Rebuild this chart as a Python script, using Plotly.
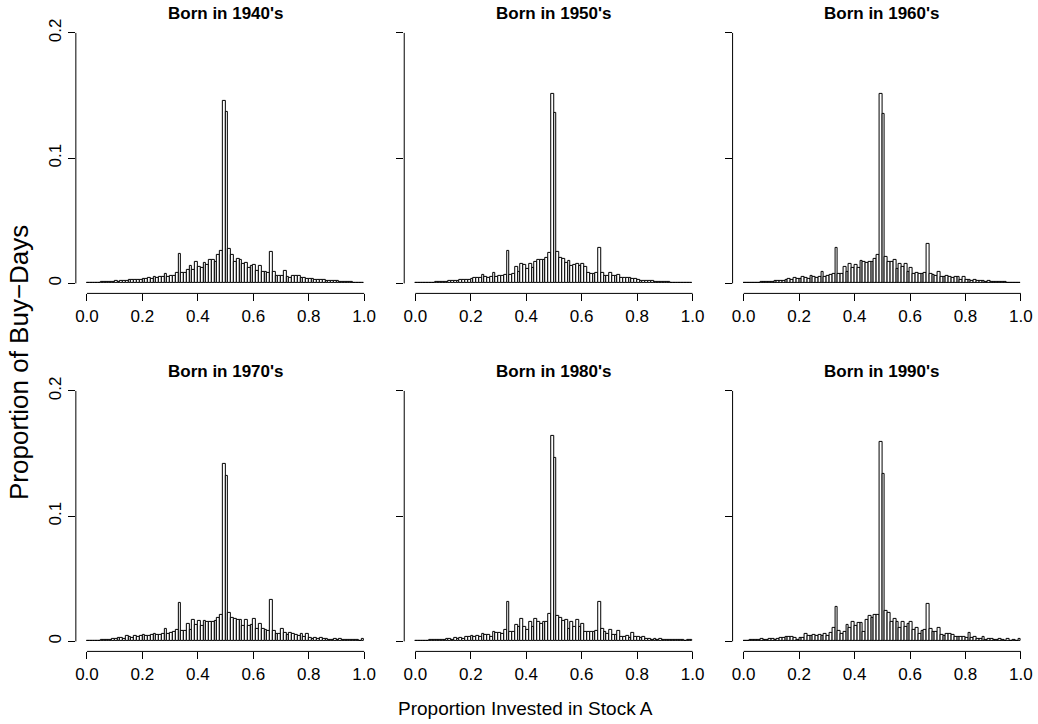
import numpy as np
import plotly.graph_objects as go

# ---------------- data ----------------
bin_edges = np.round(np.linspace(0, 1, 101), 2)
bin_mid = (bin_edges[:-1] + bin_edges[1:]) / 2

panel_titles = ["Born in 1940's", "Born in 1950's", "Born in 1960's",
                "Born in 1970's", "Born in 1980's", "Born in 1990's"]

x_tick_vals = [0.0, 0.2, 0.4, 0.6, 0.8, 1.0]
x_tick_text = ["0.0", "0.2", "0.4", "0.6", "0.8", "1.0"]
y_tick_vals = [0, 0.1, 0.2]
y_tick_text = ["0", "0.1", "0.2"]

prop_1940 = [
    0.0001, 0.0002, 0.0003, 0.0004, 0.0006, 0.0008, 0.0011, 0.0015, 0.0013, 0.0014,
    0.0016, 0.0014, 0.0018, 0.0016, 0.0021, 0.0024, 0.0024, 0.0026, 0.0029, 0.0029,
    0.0032, 0.0037, 0.0045, 0.0037, 0.0053, 0.0040, 0.0048, 0.0053, 0.0079, 0.0053,
    0.0061, 0.0061, 0.0082, 0.0235,
    0.0087, 0.0087, 0.0106, 0.0138, 0.0106, 0.0169, 0.0135, 0.0127, 0.0167, 0.0146,
    0.0190, 0.0188, 0.0172, 0.0225, 0.0259,
    0.1455, 0.1370,
    0.0278, 0.0225, 0.0175, 0.0198, 0.0190, 0.0153, 0.0167, 0.0127, 0.0138, 0.0146,
    0.0101, 0.0140, 0.0090, 0.0090, 0.0082,
    0.0251,
    0.0093, 0.0063, 0.0061, 0.0061, 0.0101, 0.0053, 0.0045, 0.0063, 0.0063, 0.0056,
    0.0040, 0.0040, 0.0037, 0.0034, 0.0032, 0.0029, 0.0026, 0.0026, 0.0024, 0.0021,
    0.0021, 0.0019, 0.0016, 0.0016, 0.0013, 0.0011, 0.0008, 0.0011, 0.0008, 0.0005,
    0.0005, 0.0003, 0.0003]

prop_1950 = [
    0.0002, 0.0003, 0.0003, 0.0004, 0.0004, 0.0005, 0.0006, 0.0008, 0.0009, 0.0011,
    0.0013, 0.0013, 0.0016, 0.0016, 0.0019, 0.0021, 0.0024, 0.0026, 0.0029, 0.0029,
    0.0037, 0.0042, 0.0045, 0.0040, 0.0066, 0.0053, 0.0040, 0.0048, 0.0082, 0.0048,
    0.0056, 0.0063, 0.0071, 0.0259,
    0.0071, 0.0079, 0.0132, 0.0093, 0.0153, 0.0146, 0.0119, 0.0153, 0.0127, 0.0175,
    0.0185, 0.0185, 0.0190, 0.0206, 0.0246,
    0.1516, 0.1362,
    0.0251, 0.0201, 0.0193, 0.0167, 0.0180, 0.0140, 0.0146, 0.0153, 0.0140, 0.0153,
    0.0132, 0.0087, 0.0079, 0.0079, 0.0082,
    0.0283,
    0.0082, 0.0061, 0.0061, 0.0082, 0.0061, 0.0056, 0.0066, 0.0045, 0.0045, 0.0042,
    0.0040, 0.0034, 0.0034, 0.0029, 0.0021, 0.0019, 0.0021, 0.0016, 0.0016, 0.0013,
    0.0011, 0.0011, 0.0008, 0.0008, 0.0008, 0.0005, 0.0005, 0.0005, 0.0003, 0.0003,
    0.0003, 0.0002, 0.0002]

prop_1960 = [
    0.0002, 0.0003, 0.0004, 0.0005, 0.0005, 0.0006, 0.0008, 0.0008, 0.0011, 0.0011,
    0.0013, 0.0016, 0.0021, 0.0016, 0.0019, 0.0024, 0.0037, 0.0029, 0.0042, 0.0032,
    0.0034, 0.0050, 0.0042, 0.0037, 0.0061, 0.0048, 0.0040, 0.0053, 0.0093, 0.0053,
    0.0056, 0.0066, 0.0079, 0.0286,
    0.0074, 0.0074, 0.0132, 0.0093, 0.0153, 0.0127, 0.0148, 0.0127, 0.0180, 0.0175,
    0.0164, 0.0175, 0.0175, 0.0198, 0.0230,
    0.1516, 0.1357,
    0.0212, 0.0175, 0.0175, 0.0190, 0.0119, 0.0159, 0.0132, 0.0153, 0.0095, 0.0124,
    0.0079, 0.0087, 0.0079, 0.0074, 0.0082,
    0.0315,
    0.0079, 0.0066, 0.0061, 0.0093, 0.0048, 0.0053, 0.0063, 0.0050, 0.0045, 0.0048,
    0.0053, 0.0029, 0.0048, 0.0029, 0.0026, 0.0021, 0.0024, 0.0016, 0.0021, 0.0016,
    0.0013, 0.0016, 0.0011, 0.0013, 0.0011, 0.0008, 0.0008, 0.0008, 0.0005, 0.0005,
    0.0005, 0.0003, 0.0003]

prop_1970 = [
    0.0003, 0.0003, 0.0004, 0.0004, 0.0005, 0.0008, 0.0008, 0.0011, 0.0013, 0.0016,
    0.0016, 0.0024, 0.0029, 0.0021, 0.0042, 0.0032, 0.0029, 0.0045, 0.0037, 0.0040,
    0.0053, 0.0045, 0.0040, 0.0048, 0.0063, 0.0048, 0.0050, 0.0061, 0.0101, 0.0061,
    0.0066, 0.0074, 0.0093, 0.0307,
    0.0082, 0.0082, 0.0138, 0.0093, 0.0172, 0.0132, 0.0167, 0.0127, 0.0167, 0.0159,
    0.0159, 0.0159, 0.0167, 0.0185, 0.0212,
    0.1415, 0.1325,
    0.0228, 0.0185, 0.0177, 0.0172, 0.0172, 0.0127, 0.0172, 0.0127, 0.0135, 0.0180,
    0.0101, 0.0138, 0.0101, 0.0090, 0.0082,
    0.0331,
    0.0087, 0.0061, 0.0056, 0.0101, 0.0066, 0.0048, 0.0071, 0.0056, 0.0050, 0.0045,
    0.0056, 0.0034, 0.0056, 0.0029, 0.0019, 0.0024, 0.0019, 0.0024, 0.0016, 0.0019,
    0.0013, 0.0013, 0.0019, 0.0013, 0.0016, 0.0011, 0.0013, 0.0011, 0.0008, 0.0011,
    0.0008, 0.0005, 0.0016]

prop_1980 = [
    0.0005, 0.0004, 0.0005, 0.0005, 0.0005, 0.0008, 0.0008, 0.0008, 0.0011, 0.0013,
    0.0013, 0.0016, 0.0016, 0.0013, 0.0026, 0.0019, 0.0026, 0.0019, 0.0032, 0.0037,
    0.0040, 0.0034, 0.0045, 0.0037, 0.0061, 0.0050, 0.0050, 0.0034, 0.0079, 0.0066,
    0.0066, 0.0056, 0.0093, 0.0312,
    0.0074, 0.0079, 0.0135, 0.0114, 0.0180, 0.0114, 0.0093, 0.0153, 0.0119, 0.0180,
    0.0153, 0.0140, 0.0153, 0.0159, 0.0220,
    0.1640, 0.1463,
    0.0201, 0.0188, 0.0167, 0.0175, 0.0101, 0.0153, 0.0114, 0.0172, 0.0114, 0.0140,
    0.0079, 0.0074, 0.0074, 0.0074, 0.0082,
    0.0317,
    0.0101, 0.0074, 0.0061, 0.0093, 0.0053, 0.0053, 0.0087, 0.0034, 0.0034, 0.0045,
    0.0026, 0.0066, 0.0034, 0.0034, 0.0029, 0.0032, 0.0016, 0.0019, 0.0013, 0.0019,
    0.0008, 0.0016, 0.0008, 0.0013, 0.0011, 0.0013, 0.0008, 0.0011, 0.0008, 0.0011,
    0.0005, 0.0008, 0.0008]

prop_1990 = [
    0.0003, 0.0005, 0.0008, 0.0008, 0.0008, 0.0011, 0.0016, 0.0008, 0.0013, 0.0019,
    0.0021, 0.0011, 0.0019, 0.0026, 0.0024, 0.0034, 0.0032, 0.0034, 0.0029, 0.0013,
    0.0029, 0.0029, 0.0056, 0.0045, 0.0040, 0.0048, 0.0042, 0.0053, 0.0040, 0.0061,
    0.0040, 0.0071, 0.0106, 0.0272,
    0.0085, 0.0063, 0.0079, 0.0132, 0.0106, 0.0153, 0.0122, 0.0146, 0.0146, 0.0079,
    0.0175, 0.0201, 0.0188, 0.0214, 0.0212,
    0.1595, 0.1339,
    0.0246, 0.0225, 0.0159, 0.0177, 0.0159, 0.0106, 0.0153, 0.0119, 0.0143, 0.0159,
    0.0093, 0.0106, 0.0061, 0.0087, 0.0093,
    0.0302,
    0.0098, 0.0079, 0.0079, 0.0106, 0.0053, 0.0045, 0.0058, 0.0058, 0.0053, 0.0034,
    0.0037, 0.0037, 0.0037, 0.0029, 0.0069, 0.0029, 0.0034, 0.0016, 0.0016, 0.0034,
    0.0008, 0.0021, 0.0021, 0.0008, 0.0013, 0.0021, 0.0008, 0.0005, 0.0016, 0.0005,
    0.0011, 0.0005, 0.0016]

series = [prop_1940, prop_1950, prop_1960, prop_1970, prop_1980, prop_1990]
for s in series:
    assert len(s) == 100

# ---------------- layout ----------------
W, H = 1038, 724
FONT = "Liberation Sans, Arial, Helvetica, sans-serif"
col_px = [(75, 375), (404, 704), (733, 1033)]
row_px = [(19, 291), (379, 651)]

fig = go.Figure()
layout = {}
shapes = []
annotations = []

for i, (title, vals) in enumerate(zip(panel_titles, series)):
    r, c = divmod(i, 3)
    n = "" if i == 0 else str(i + 1)
    xa, ya = "x" + n, "y" + n
    x0, x1 = col_px[c]
    y0, y1 = row_px[r]

    fig.add_trace(go.Bar(
        x=bin_mid, y=vals, width=0.01,
        marker=dict(color="white", line=dict(color="black", width=1)),
        xaxis=xa, yaxis=ya, showlegend=False, hoverinfo="x+y"))

    layout["xaxis" + n] = dict(
        domain=[x0 / W, x1 / W], range=[-0.04, 1.04], anchor=ya,
        tickmode="array", tickvals=x_tick_vals, ticktext=x_tick_text,
        ticks="outside", ticklen=7, tickwidth=1, tickcolor="black",
        showgrid=False, zeroline=False, showline=False,
        tickfont=dict(family=FONT, size=17, color="black"))
    layout["yaxis" + n] = dict(
        domain=[1 - y1 / H, 1 - y0 / H], range=[-0.008, 0.208], anchor=xa,
        tickmode="array", tickvals=y_tick_vals, ticktext=y_tick_text,
        ticks="outside", ticklen=7, tickwidth=1, tickcolor="black",
        tickangle=-90, showticklabels=(c == 0),
        showgrid=False, zeroline=False, showline=False,
        tickfont=dict(family=FONT, size=17, color="black"))

    # R-style axis lines spanning first to last tick
    shapes.append(dict(type="line", xref=xa, yref=ya + " domain",
                       x0=x_tick_vals[0], x1=x_tick_vals[-1], y0=0, y1=0,
                       line=dict(color="black", width=1)))
    shapes.append(dict(type="line", xref=xa + " domain", yref=ya,
                       x0=0, x1=0, y0=y_tick_vals[0], y1=y_tick_vals[-1],
                       line=dict(color="black", width=1)))

    annotations.append(dict(
        text="<b>" + title + "</b>", xref="paper", yref="paper",
        x=(x0 + x1) / 2 / W, y=1 - (y0 - 9) / H, xanchor="center", yanchor="middle",
        showarrow=False, font=dict(family=FONT, size=17, color="black")))

annotations.append(dict(
    text="Proportion Invested in Stock A", xref="paper", yref="paper",
    x=526 / W, y=1 - 708 / H, xanchor="center", yanchor="middle",
    showarrow=False, font=dict(family=FONT, size=19, color="black")))
annotations.append(dict(
    text="Proportion of Buy\u2212Days", xref="paper", yref="paper",
    x=18 / W, y=1 - 360 / H, xanchor="center", yanchor="middle", textangle=-90,
    showarrow=False, font=dict(family=FONT, size=26, color="black")))

fig.update_layout(
    width=W, height=H, margin=dict(l=0, r=0, t=0, b=0),
    paper_bgcolor="white", plot_bgcolor="white",
    bargap=0, shapes=shapes, annotations=annotations, **layout)

fig.write_html("out.html")
